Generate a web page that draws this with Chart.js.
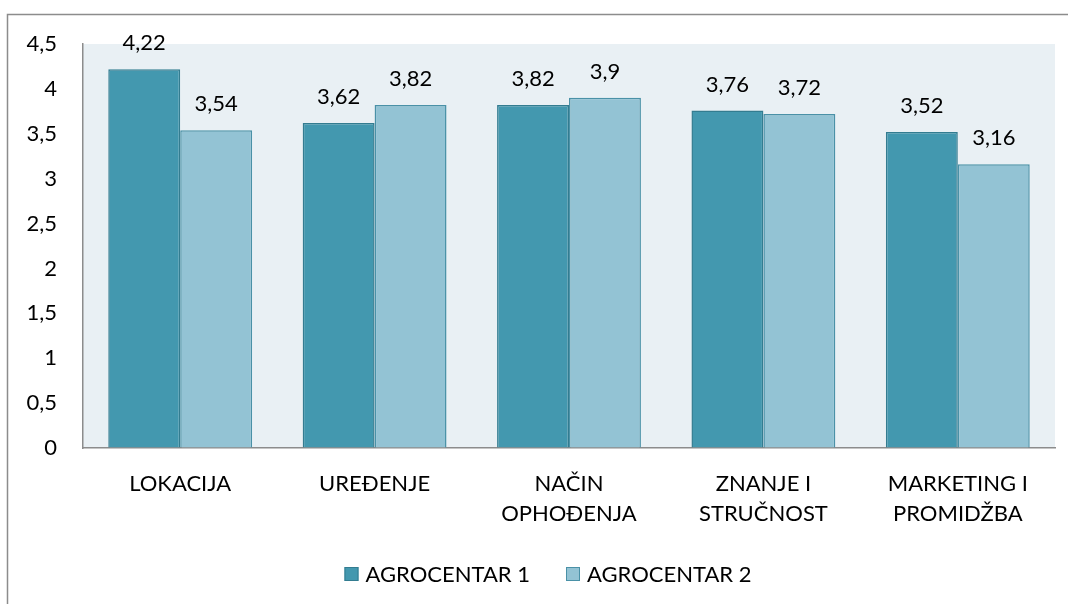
<!DOCTYPE html>
<html>
<head>
<meta charset="utf-8">
<script src="https://cdn.jsdelivr.net/npm/chart.js@4/dist/chart.umd.min.js"></script>
<style>
  html, body { margin: 0; padding: 0; background: #fff; }
  #wrap { width: 1068px; height: 604px; }
</style>
</head>
<body>
<div id="wrap"><canvas id="chart" width="1068" height="604"></canvas></div>
<script>
// podaci s grafa
const categories = ['LOKACIJA', 'UREĐENJE', ['NAČIN', 'OPHOĐENJA'], ['ZNANJE I', 'STRUČNOST'], ['MARKETING I', 'PROMIDŽBA']];
const seriesNames = ['AGROCENTAR 1', 'AGROCENTAR 2'];
const agrocentar1 = [4.22, 3.62, 3.82, 3.76, 3.52];
const agrocentar2 = [3.54, 3.82, 3.9, 3.72, 3.16];
const yTicks = [0, 0.5, 1, 1.5, 2, 2.5, 3, 3.5, 4, 4.5];

const FONT = 'Lato, "Open Sans", sans-serif';
const FONT_SIZE = 22;

function fmt(v) {
    return String(v).replace('.', ',');
}

// okvir i pozadina podrucja grafa
const backgroundPlugin = {
    id: 'backgroundPlugin',
    beforeDraw(chart) {
        const ctx = chart.ctx;
        const a = chart.chartArea;
        ctx.save();
        ctx.fillStyle = '#E9F0F4';
        ctx.fillRect(a.left, a.top, a.right - a.left, a.bottom - a.top);
        ctx.strokeStyle = '#8C8C8C';
        ctx.lineWidth = 1.5;
        ctx.beginPath();
        ctx.moveTo(7.5, 604);
        ctx.lineTo(7.5, 14.5);
        ctx.lineTo(1068, 14.5);
        ctx.stroke();
        ctx.restore();
    }
};

// vrijednosti iznad stupaca
const valueLabels = {
    id: 'valueLabels',
    afterDatasetsDraw(chart) {
        const ctx = chart.ctx;
        ctx.save();
        ctx.font = FONT_SIZE + 'px ' + FONT;
        ctx.fillStyle = '#000';
        ctx.textAlign = 'center';
        ctx.textBaseline = 'middle';
        chart.data.datasets.forEach((ds, i) => {
            chart.getDatasetMeta(i).data.forEach((bar, j) => {
                ctx.fillText(fmt(ds.data[j]), bar.x, bar.y - 26);
            });
        });
        ctx.restore();
    }
};

// legenda ispod grafa
const legendPlugin = {
    id: 'legendPlugin',
    afterDraw(chart) {
        const ctx = chart.ctx;
        ctx.save();
        ctx.font = FONT_SIZE + 'px ' + FONT;
        ctx.textBaseline = 'middle';
        const ds = chart.data.datasets;
        const widths = ds.map(d => 14 + 7 + ctx.measureText(d.label).width);
        const total = widths.reduce((s, w) => s + w, 0) + 36 * (ds.length - 1);
        let x = 548 - total / 2;
        const y = 574;
        ds.forEach((d, i) => {
            ctx.fillStyle = d.backgroundColor;
            ctx.fillRect(x, y - 7, 14, 14);
            ctx.strokeStyle = d.borderColor;
            ctx.lineWidth = 1;
            ctx.strokeRect(x + 0.5, y - 6.5, 13, 13);
            ctx.fillStyle = '#000';
            ctx.fillText(d.label, x + 21, y + 1);
            x += widths[i] + 36;
        });
        ctx.restore();
    }
};

new Chart(document.getElementById('chart'), {
    type: 'bar',
    data: {
        labels: categories,
        datasets: [{
            label: seriesNames[0],
            data: agrocentar1,
            backgroundColor: '#4398AF',
            borderColor: '#337C90',
            borderWidth: 1.5
        }, {
            label: seriesNames[1],
            data: agrocentar2,
            backgroundColor: '#93C3D4',
            borderColor: '#4A91A7',
            borderWidth: 1.5
        }]
    },
    options: {
        responsive: false,
        animation: false,
        layout: { padding: { top: 44, right: 13, left: 0, bottom: 0 } },
        datasets: { bar: { categoryPercentage: 0.74, barPercentage: 1 } },
        plugins: {
            tooltip: { enabled: false },
            legend: { display: false }
        },
        scales: {
            x: {
                afterFit(scale) { scale.height = 156; },
                grid: { color: 'transparent', drawTicks: false },
                border: { display: true, color: '#8C8C8C', width: 1.5 },
                ticks: {
                    padding: 21,
                    color: '#000',
                    maxRotation: 0,
                    autoSkip: false,
                    font: { family: FONT, size: FONT_SIZE, lineHeight: 1.36 }
                }
            },
            y: {
                min: 0,
                max: 4.5,
                afterFit(scale) { scale.width = 83; },
                afterBuildTicks(scale) { scale.ticks = yTicks.map(v => ({ value: v })); },
                grid: { color: 'transparent', drawTicks: false },
                border: { display: true, color: '#8C8C8C', width: 1.5 },
                ticks: {
                    padding: 26,
                    color: '#000',
                    font: { family: FONT, size: FONT_SIZE },
                    callback: v => fmt(v)
                }
            }
        }
    },
    plugins: [backgroundPlugin, valueLabels, legendPlugin]
});
</script>
</body>
</html>
